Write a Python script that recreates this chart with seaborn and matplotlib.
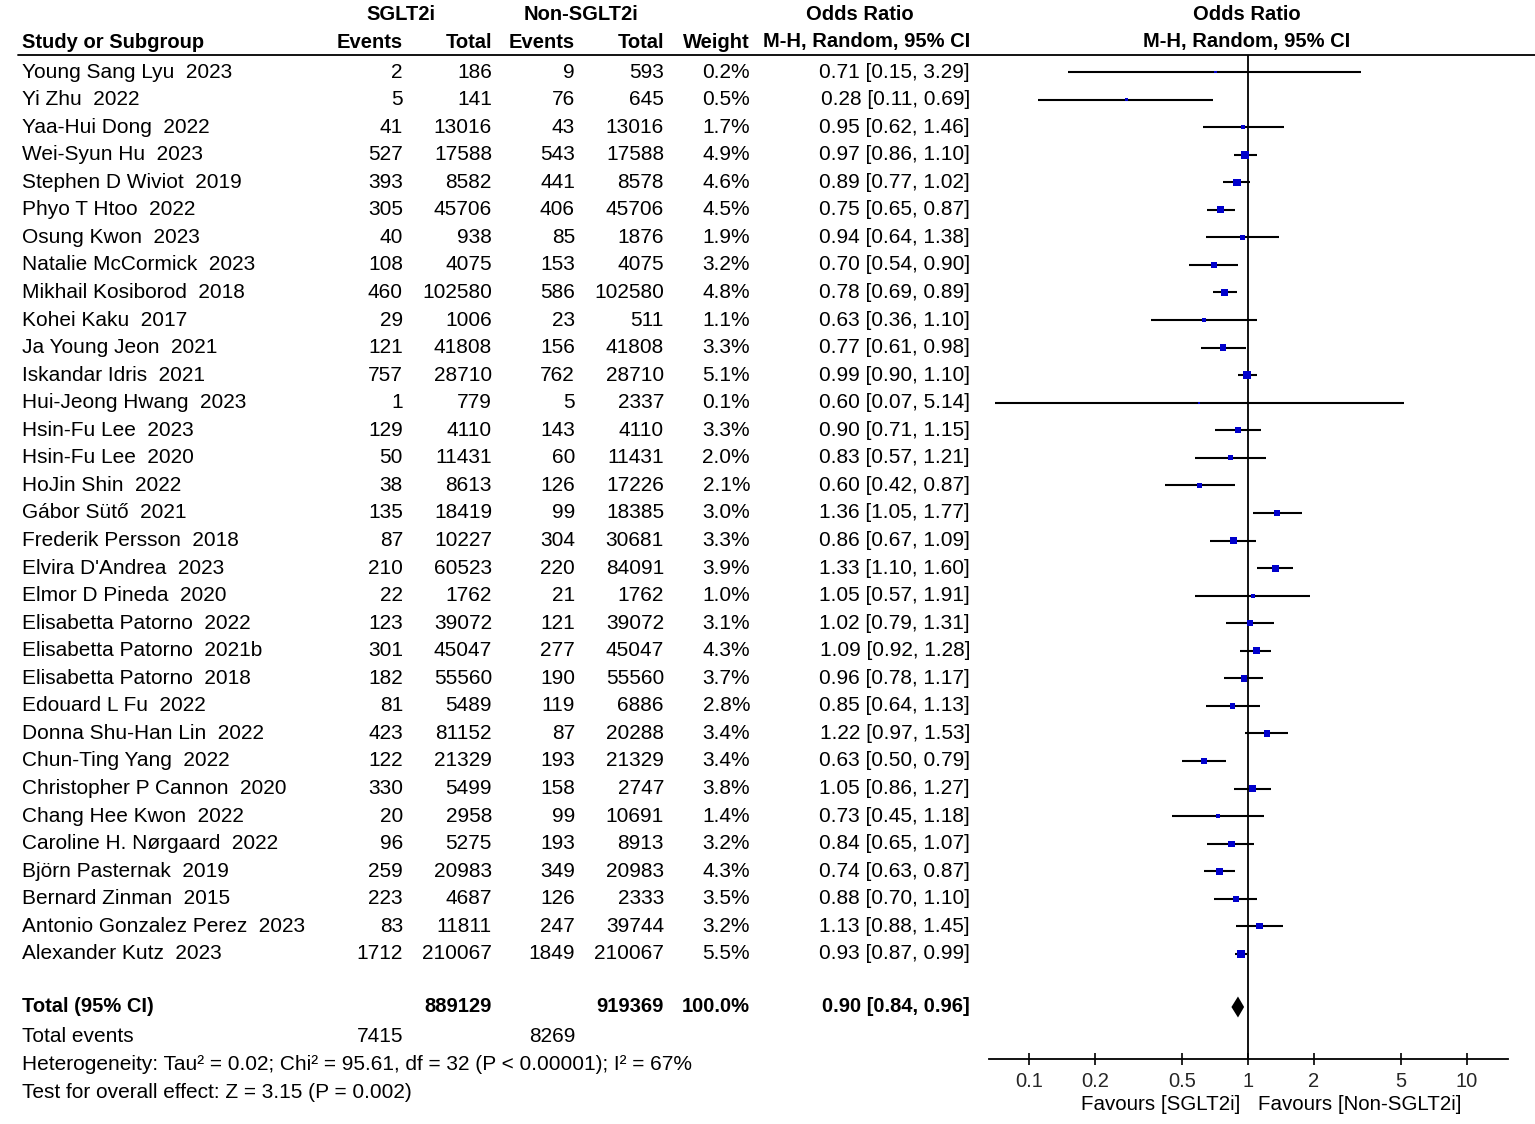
import numpy as np
import pandas as pd
import matplotlib
matplotlib.use("Agg")
import matplotlib.pyplot as plt
import seaborn as sns

# study data
authors = [
    "Young Sang Lyu", "Yi Zhu", "Yaa-Hui Dong", "Wei-Syun Hu", "Stephen D Wiviot",
    "Phyo T Htoo", "Osung Kwon", "Natalie McCormick", "Mikhail Kosiborod", "Kohei Kaku",
    "Ja Young Jeon", "Iskandar Idris", "Hui-Jeong Hwang", "Hsin-Fu Lee", "Hsin-Fu Lee",
    "HoJin Shin", "Gábor Sütő", "Frederik Persson", "Elvira D'Andrea", "Elmor D Pineda",
    "Elisabetta Patorno", "Elisabetta Patorno", "Elisabetta Patorno", "Edouard L Fu",
    "Donna Shu-Han Lin", "Chun-Ting Yang", "Christopher P Cannon", "Chang Hee Kwon",
    "Caroline H. Nørgaard", "Björn Pasternak", "Bernard Zinman", "Antonio Gonzalez Perez",
    "Alexander Kutz",
]
years = [
    "2023", "2022", "2022", "2023", "2019", "2022", "2023", "2023", "2018", "2017",
    "2021", "2021", "2023", "2023", "2020", "2022", "2021", "2018", "2023", "2020",
    "2022", "2021b", "2018", "2022", "2022", "2022", "2020", "2022", "2022", "2019",
    "2015", "2023", "2023",
]
sglt2_events = [2, 5, 41, 527, 393, 305, 40, 108, 460, 29, 121, 757, 1, 129, 50, 38, 135,
                87, 210, 22, 123, 301, 182, 81, 423, 122, 330, 20, 96, 259, 223, 83, 1712]
sglt2_total = [186, 141, 13016, 17588, 8582, 45706, 938, 4075, 102580, 1006, 41808, 28710,
               779, 4110, 11431, 8613, 18419, 10227, 60523, 1762, 39072, 45047, 55560, 5489,
               81152, 21329, 5499, 2958, 5275, 20983, 4687, 11811, 210067]
non_events = [9, 76, 43, 543, 441, 406, 85, 153, 586, 23, 156, 762, 5, 143, 60, 126, 99,
              304, 220, 21, 121, 277, 190, 119, 87, 193, 158, 99, 193, 349, 126, 247, 1849]
non_total = [593, 645, 13016, 17588, 8578, 45706, 1876, 4075, 102580, 511, 41808, 28710,
             2337, 4110, 11431, 17226, 18385, 30681, 84091, 1762, 39072, 45047, 55560, 6886,
             20288, 21329, 2747, 10691, 8913, 20983, 2333, 39744, 210067]
weights = [0.2, 0.5, 1.7, 4.9, 4.6, 4.5, 1.9, 3.2, 4.8, 1.1, 3.3, 5.1, 0.1, 3.3, 2.0, 2.1,
           3.0, 3.3, 3.9, 1.0, 3.1, 4.3, 3.7, 2.8, 3.4, 3.4, 3.8, 1.4, 3.2, 4.3, 3.5, 3.2, 5.5]
odds = [0.71, 0.28, 0.95, 0.97, 0.89, 0.75, 0.94, 0.70, 0.78, 0.63, 0.77, 0.99, 0.60, 0.90,
        0.83, 0.60, 1.36, 0.86, 1.33, 1.05, 1.02, 1.09, 0.96, 0.85, 1.22, 0.63, 1.05, 0.73,
        0.84, 0.74, 0.88, 1.13, 0.93]
ci_low = [0.15, 0.11, 0.62, 0.86, 0.77, 0.65, 0.64, 0.54, 0.69, 0.36, 0.61, 0.90, 0.07, 0.71,
          0.57, 0.42, 1.05, 0.67, 1.10, 0.57, 0.79, 0.92, 0.78, 0.64, 0.97, 0.50, 0.86, 0.45,
          0.65, 0.63, 0.70, 0.88, 0.87]
ci_high = [3.29, 0.69, 1.46, 1.10, 1.02, 0.87, 1.38, 0.90, 0.89, 1.10, 0.98, 1.10, 5.14, 1.15,
           1.21, 0.87, 1.77, 1.09, 1.60, 1.91, 1.31, 1.28, 1.17, 1.13, 1.53, 0.79, 1.27, 1.18,
           1.07, 0.87, 1.10, 1.45, 0.99]

# pooled result
total_sglt2 = 889129
total_non = 919369
total_weight = 100.0
events_sglt2 = 7415
events_non = 8269
pooled_or, pooled_low, pooled_high = 0.90, 0.84, 0.96
heterogeneity = "Heterogeneity: Tau² = 0.02; Chi² = 95.61, df = 32 (P < 0.00001); I² = 67%"
overall_effect = "Test for overall effect: Z = 3.15 (P = 0.002)"

tick_values = [0.1, 0.2, 0.5, 1, 2, 5, 10]
tick_labels = ["0.1", "0.2", "0.5", "1", "2", "5", "10"]

# layout in pixels
W, H = 1535, 1124
ROW0, ROWH = 72, 27.56
X_ONE, DECADE = 1248, 219
AX_LEFT, AX_RIGHT = 989, 1508
AX_TOP, AX_BOTTOM = 55, 1059
FS_HEAD = 14.5
FS_ROW = 15

sns.set_theme(style="white")
plt.rcParams["font.family"] = ["Liberation Sans", "DejaVu Sans"]

df = pd.DataFrame({
    "study": [f"{a}  {y}" for a, y in zip(authors, years)],
    "ev1": sglt2_events, "n1": sglt2_total, "ev2": non_events, "n2": non_total,
    "weight": weights, "or": odds, "low": ci_low, "high": ci_high,
})
df["y"] = ROW0 + ROWH * np.arange(len(df))
y_total = 1007

fig = plt.figure(figsize=(W / 100, H / 100), dpi=100)

# forest panel
ax = fig.add_axes([AX_LEFT / W, 1 - AX_BOTTOM / H,
                   (AX_RIGHT - AX_LEFT) / W, (AX_BOTTOM - AX_TOP) / H])
ax.set_xscale("log")
ax.set_xlim(10 ** ((AX_LEFT - X_ONE) / DECADE), 10 ** ((AX_RIGHT - X_ONE) / DECADE))
ax.set_ylim(AX_BOTTOM, AX_TOP)
ax.hlines(df["y"], df["low"], df["high"], color="black", lw=1.5, zorder=2)
sns.scatterplot(data=df, x="or", y="y", size="weight", sizes=(2, 34), size_norm=(0.1, 5.5),
                marker="s", color="#0000cc", linewidth=0, legend=False, ax=ax, zorder=3)
ax.fill([pooled_low, pooled_or, pooled_high, pooled_or],
        [y_total, y_total - 10.5, y_total, y_total + 10.5], color="black", lw=0, zorder=3)
ax.axvline(1, color="black", lw=1.3, zorder=1)
for s in ["top", "left", "right"]:
    ax.spines[s].set_visible(False)
ax.spines["bottom"].set_color("black")
ax.spines["bottom"].set_linewidth(1.3)
ax.set_xticks(tick_values)
ax.set_xticklabels(tick_labels, fontsize=FS_ROW - 0.5)
ax.minorticks_off()
ax.tick_params(axis="x", which="major", direction="inout", length=9, width=1.2,
               color="black", pad=5, bottom=True)
ax.set_yticks([])
ax.set_xlabel("")
ax.set_ylabel("")
ax.patch.set_alpha(0)

# text overlay in pixel coordinates
tx = fig.add_axes([0, 0, 1, 1])
tx.set_xlim(0, W)
tx.set_ylim(H, 0)
tx.axis("off")


def put(x, y, s, ha="right", bold=False, size=FS_ROW):
    tx.text(x, y, s, ha=ha, va="center", fontsize=size,
            fontweight="bold" if bold else "normal", color="black")


# headers
put(401, 15, "SGLT2i", ha="center", bold=True, size=FS_HEAD)
put(581, 15, "Non-SGLT2i", ha="center", bold=True, size=FS_HEAD)
put(860, 15, "Odds Ratio", ha="center", bold=True, size=FS_HEAD)
put(1247, 15, "Odds Ratio", ha="center", bold=True, size=FS_HEAD)
put(22, 42, "Study or Subgroup", ha="left", bold=True, size=FS_HEAD)
put(403, 42, "Events", bold=True, size=FS_HEAD)
put(492, 42, "Total", bold=True, size=FS_HEAD)
put(575, 42, "Events", bold=True, size=FS_HEAD)
put(664, 42, "Total", bold=True, size=FS_HEAD)
put(750, 42, "Weight", bold=True, size=FS_HEAD)
put(970, 42, "M-H, Random, 95% CI", bold=True, size=FS_HEAD)
put(1247, 42, "M-H, Random, 95% CI", ha="center", bold=True, size=FS_HEAD)
tx.plot([18, W], [AX_TOP, AX_TOP], color="black", lw=1.3)

# study rows
for _, r in df.iterrows():
    put(22, r["y"], r["study"], ha="left")
    put(403, r["y"], f"{r['ev1']:d}")
    put(492, r["y"], f"{r['n1']:d}")
    put(575, r["y"], f"{r['ev2']:d}")
    put(664, r["y"], f"{r['n2']:d}")
    put(750, r["y"], f"{r['weight']:.1f}%")
    put(970, r["y"], f"{r['or']:.2f} [{r['low']:.2f}, {r['high']:.2f}]")

# totals
put(22, y_total, "Total (95% CI)", ha="left", bold=True, size=FS_HEAD)
put(492, y_total, f"{total_sglt2}", bold=True, size=FS_HEAD)
put(664, y_total, f"{total_non}", bold=True, size=FS_HEAD)
put(750, y_total, f"{total_weight:.1f}%", bold=True, size=FS_HEAD)
put(970, y_total, f"{pooled_or:.2f} [{pooled_low:.2f}, {pooled_high:.2f}]", bold=True, size=FS_HEAD)
put(22, 1036, "Total events", ha="left")
put(403, 1036, f"{events_sglt2}")
put(575, 1036, f"{events_non}")
put(22, 1064, heterogeneity, ha="left")
put(22, 1092, overall_effect, ha="left")

put(1240, 1104, "Favours [SGLT2i]", size=FS_ROW - 0.2)
put(1258, 1104, "Favours [Non-SGLT2i]", ha="left", size=FS_ROW - 0.2)

fig.savefig("out.png", dpi=100)
